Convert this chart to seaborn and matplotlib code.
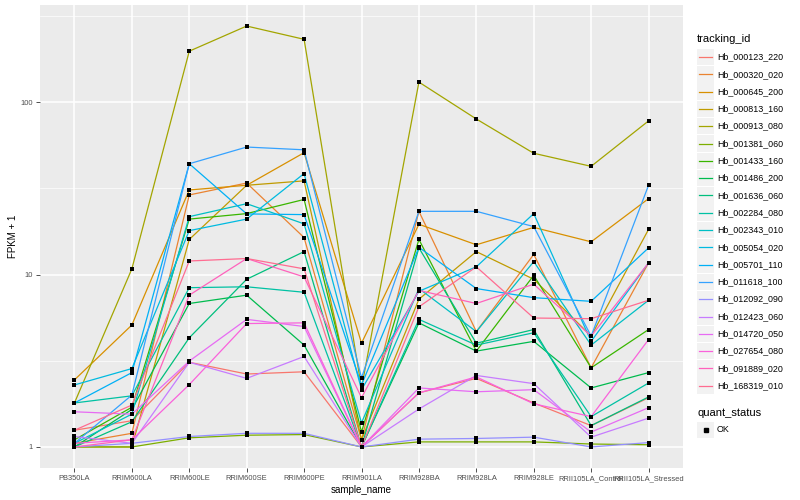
import numpy as np
import pandas as pd
import matplotlib
matplotlib.use("Agg")
import matplotlib.pyplot as plt
import seaborn as sns
from matplotlib.patches import Rectangle

# sample order on the x axis
samples = ["PB350LA", "RRIM600LA", "RRIM600LE", "RRIM600SE", "RRIM600PE",
           "RRIM901LA", "RRIM928BA", "RRIM928LA", "RRIM928LE",
           "RRII105LA_Control", "RRII105LA_Stressed"]

tracking_ids = ["Hb_000123_220", "Hb_000320_020", "Hb_000645_200", "Hb_000813_160",
                "Hb_000913_080", "Hb_001381_060", "Hb_001433_160", "Hb_001486_200",
                "Hb_001636_060", "Hb_002284_080", "Hb_002343_010", "Hb_005054_020",
                "Hb_005701_110", "Hb_011618_100", "Hb_012092_090", "Hb_012423_060",
                "Hb_014720_050", "Hb_027654_080", "Hb_091889_020", "Hb_168319_010"]

# FPKM + 1 per gene
hb_000123_220 = [1.25, 1.42, 3.1, 2.65, 2.73, 1.0, 2.06, 2.5, 1.8, 1.33, 1.93]
hb_000320_020 = [1.05, 1.2, 29, 34, 16.4, 1.1, 23.3, 4.67, 13.1, 2.88, 11.7]
hb_000645_200 = [2.45, 5.1, 31, 33, 51, 4.0, 19.6, 14.9, 18.8, 15.5, 27.6]
hb_000813_160 = [1.0, 1.0, 16, 33, 35, 1.1, 7.2, 13.6, 9.4, 4.4, 18.3]
hb_000913_080 = [1.8, 10.8, 198, 277, 232, 2.2, 131, 80, 50.6, 42.5, 78]
hb_001381_060 = [1.0, 1.0, 1.13, 1.17, 1.18, 1.0, 1.07, 1.07, 1.07, 1.04, 1.03]
hb_001433_160 = [1.1, 1.7, 21, 22.6, 27.3, 1.22, 16, 3.6, 9.9, 2.88, 4.8]
hb_001486_200 = [1.0, 1.65, 6.8, 7.6, 3.9, 1.0, 5.25, 3.6, 4.1, 2.2, 2.7]
hb_001636_060 = [1.0, 1.4, 4.3, 9.4, 13.6, 1.0, 14.3, 4.0, 4.8, 1.33, 1.95]
hb_002284_080 = [1.8, 1.98, 8.4, 8.5, 7.9, 1.0, 5.5, 3.9, 4.6, 1.5, 2.35]
hb_002343_010 = [1.05, 1.55, 21.7, 25.8, 19.7, 1.38, 8.3, 4.67, 11.9, 3.9, 7.1]
hb_005054_020 = [2.29, 2.85, 18, 21, 38.6, 2.15, 8.0, 11.1, 22.6, 4.1, 11.7]
hb_005701_110 = [1.8, 2.7, 44, 22.5, 22.3, 2.29, 14.4, 8.3, 7.35, 7.0, 14.3]
hb_011618_100 = [1.05, 2.0, 44, 55, 53, 2.52, 23.3, 23.3, 19, 4.4, 33]
hb_012092_090 = [1.0, 1.05, 1.15, 1.2, 1.2, 1.0, 1.11, 1.12, 1.14, 1.0, 1.06]
hb_012423_060 = [1.15, 1.05, 3.1, 2.5, 3.35, 1.0, 1.66, 2.6, 2.33, 1.14, 1.47]
hb_014720_050 = [1.6, 1.55, 3.15, 5.5, 5.0, 1.0, 2.2, 2.09, 2.15, 1.22, 1.69]
hb_027654_080 = [1.05, 1.1, 2.3, 5.2, 5.25, 1.0, 2.06, 2.55, 1.78, 1.5, 4.2]
hb_091889_020 = [1.0, 1.1, 7.6, 12.4, 9.7, 1.93, 8.1, 6.8, 8.8, 4.4, 11.7]
hb_168319_010 = [1.25, 1.75, 12, 12.4, 10.8, 1.0, 6.5, 11.1, 5.6, 5.55, 7.1]

series = [hb_000123_220, hb_000320_020, hb_000645_200, hb_000813_160, hb_000913_080,
          hb_001381_060, hb_001433_160, hb_001486_200, hb_001636_060, hb_002284_080,
          hb_002343_010, hb_005054_020, hb_005701_110, hb_011618_100, hb_012092_090,
          hb_012423_060, hb_014720_050, hb_027654_080, hb_091889_020, hb_168319_010]

# ggplot default hue palette for 20 levels
hue_colors = ["#F8766D", "#EA8331", "#D89000", "#C09B00", "#A3A500", "#7CAE00",
              "#39B600", "#00BB4E", "#00BF7D", "#00C1A3", "#00BFC4", "#00BAE0",
              "#00B0F6", "#35A2FF", "#9590FF", "#C77CFF", "#E76BF3", "#FA62DB",
              "#FF62BC", "#FF6C91"]

rows = []
for tid, vals in zip(tracking_ids, series):
    for i, (s, v) in enumerate(zip(samples, vals)):
        rows.append({"tracking_id": tid, "sample_name": s, "pos": i,
                     "fpkm": v, "quant_status": "OK"})
df = pd.DataFrame(rows)

plt.rcParams["font.family"] = ["Liberation Sans", "DejaVu Sans"]

fig = plt.figure(figsize=(8, 5), dpi=100)
ax = fig.add_axes([40 / 800, 1 - 468 / 500, 643 / 800, 463 / 500])
ax.set_facecolor("#EBEBEB")

sns.lineplot(data=df, x="pos", y="fpkm", hue="tracking_id", hue_order=tracking_ids,
             palette=hue_colors, estimator=None, sort=False, lw=0.9,
             legend=False, ax=ax, zorder=2)
sns.scatterplot(data=df, x="pos", y="fpkm", color="black", marker="s", s=10,
                linewidth=0, legend=False, ax=ax, zorder=3)

ax.set_yscale("log")
lo, hi = np.log10(df.fpkm.min()), np.log10(df.fpkm.max())
pad = 0.05 * (hi - lo)
ax.set_ylim(10 ** (lo - pad), 10 ** (hi + pad))
ax.set_xlim(-0.6, len(samples) - 0.4)

ax.set_yticks([1, 10, 100])
ax.set_yticklabels(["1", "10", "100"])
ax.set_yticks([10 ** 0.5, 10 ** 1.5, 10 ** 2.5], minor=True)
ax.set_xticks(range(len(samples)))
ax.set_xticklabels(samples)
ax.tick_params(axis="both", which="major", length=3, width=0.6, color="#333333",
               labelsize=5.4, labelcolor="#4D4D4D", pad=2)
ax.tick_params(axis="y", which="minor", length=0)
ax.grid(which="major", color="white", lw=1.1)
ax.grid(which="minor", axis="y", color="white", lw=0.5)
ax.set_axisbelow(True)
for sp in ax.spines.values():
    sp.set_visible(False)

ax.set_xlabel("sample_name", fontsize=7, labelpad=2)
ax.set_ylabel("FPKM + 1", fontsize=7, labelpad=2)

# ggplot-style legends on the right
lg = fig.add_axes([690 / 800, 0, 110 / 800, 1])
lg.set_xlim(690, 800)
lg.set_ylim(500, 0)
lg.axis("off")
lg.text(697, 39, "tracking_id", fontsize=8, va="center", ha="left")
for i, (tid, c) in enumerate(zip(tracking_ids, hue_colors)):
    yc = 57 + i * 17.3
    lg.add_patch(Rectangle((697, yc - 8.3), 17, 16.6, facecolor="#F2F2F2", edgecolor="none"))
    lg.plot([699, 712], [yc, yc], color=c, lw=0.9)
    lg.text(717, yc, tid, fontsize=6.4, va="center", ha="left")
lg.text(697, 413, "quant_status", fontsize=8, va="center", ha="left")
lg.add_patch(Rectangle((697, 430 - 8.3), 17, 16.6, facecolor="#F2F2F2", edgecolor="none"))
lg.plot([705.5], [430], marker="s", color="black", ms=2.8)
lg.text(717, 430, "OK", fontsize=6.4, va="center", ha="left")

fig.savefig("out.png", dpi=100)
